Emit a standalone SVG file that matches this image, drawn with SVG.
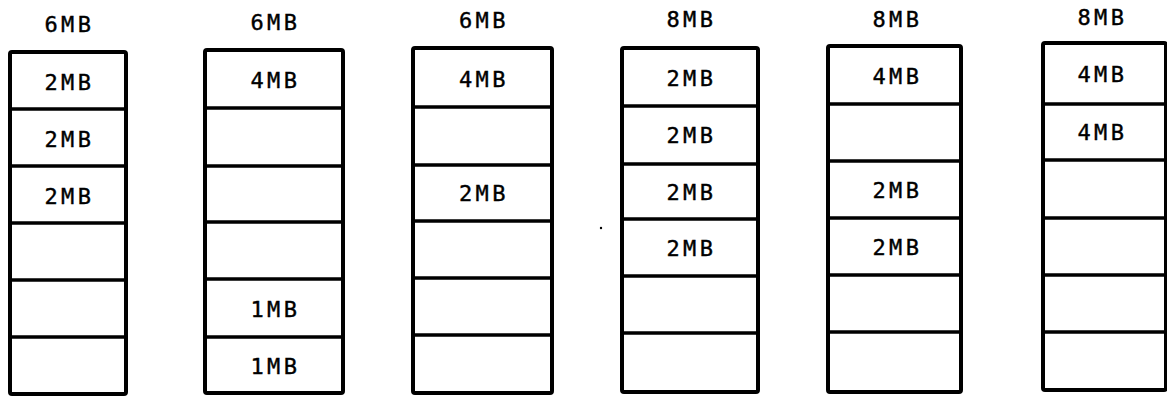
<svg xmlns="http://www.w3.org/2000/svg" width="1167" height="396" viewBox="0 0 1167 396">
<style>
.box{fill:#fff;stroke:#000;stroke-width:4;stroke-linejoin:round}
.div{stroke:#000;stroke-width:3.4;fill:none}
text{font-family:"DejaVu Sans Mono","Liberation Mono",monospace;font-size:22px;letter-spacing:3.5px;text-anchor:middle;fill:#000;stroke:#000;stroke-width:0.4}
</style>
<rect width="1167" height="396" fill="#fff"/>
<g id="col1">
<rect class="box" x="10" y="52" width="116" height="342" rx="2"/>
<path class="div" d="M10 109H126M10 166H126M10 223H126M10 280H126M10 337H126"/>
<text x="69.5" y="32">6MB</text>
<text x="69.5" y="90">2MB</text>
<text x="69.5" y="147">2MB</text>
<text x="69.5" y="204">2MB</text>
</g>
<g id="col2">
<rect class="box" x="205" y="50" width="138" height="343" rx="2"/>
<path class="div" d="M205 108H343M205 166H343M205 222H343M205 279H343M205 337H343"/>
<text x="275.5" y="30">6MB</text>
<text x="275.5" y="88">4MB</text>
<text x="275.5" y="317">1MB</text>
<text x="275.5" y="374">1MB</text>
</g>
<g id="col3">
<rect class="box" x="413" y="48" width="139" height="345" rx="2"/>
<path class="div" d="M413 107H552M413 165H552M413 221H552M413 278H552M413 335H552"/>
<text x="484" y="28">6MB</text>
<text x="484" y="87">4MB</text>
<text x="484" y="201">2MB</text>
</g>
<g id="col4">
<rect class="box" x="622" y="48" width="136" height="344" rx="2"/>
<path class="div" d="M622 106H758M622 164H758M622 219H758M622 276H758M622 333H758"/>
<text x="691.5" y="27">8MB</text>
<text x="691.5" y="86">2MB</text>
<text x="691.5" y="143">2MB</text>
<text x="691.5" y="200">2MB</text>
<text x="691.5" y="256">2MB</text>
</g>
<g id="col5">
<rect class="box" x="828" y="46" width="133" height="346" rx="2"/>
<path class="div" d="M828 104H961M828 161H961M828 218H961M828 275H961M828 332H961"/>
<text x="897.5" y="27">8MB</text>
<text x="897.5" y="84">4MB</text>
<text x="897.5" y="198">2MB</text>
<text x="897.5" y="255">2MB</text>
</g>
<g id="col6">
<rect class="box" x="1043" y="43" width="123" height="347" rx="2"/>
<path class="div" d="M1043 104H1166M1043 160H1166M1043 218H1166M1043 275H1166M1043 332H1166"/>
<text x="1102.5" y="25">8MB</text>
<text x="1102.5" y="82">4MB</text>
<text x="1102.5" y="140">4MB</text>
</g>
<circle cx="601" cy="228" r="1.2" fill="#000"/>
</svg>
